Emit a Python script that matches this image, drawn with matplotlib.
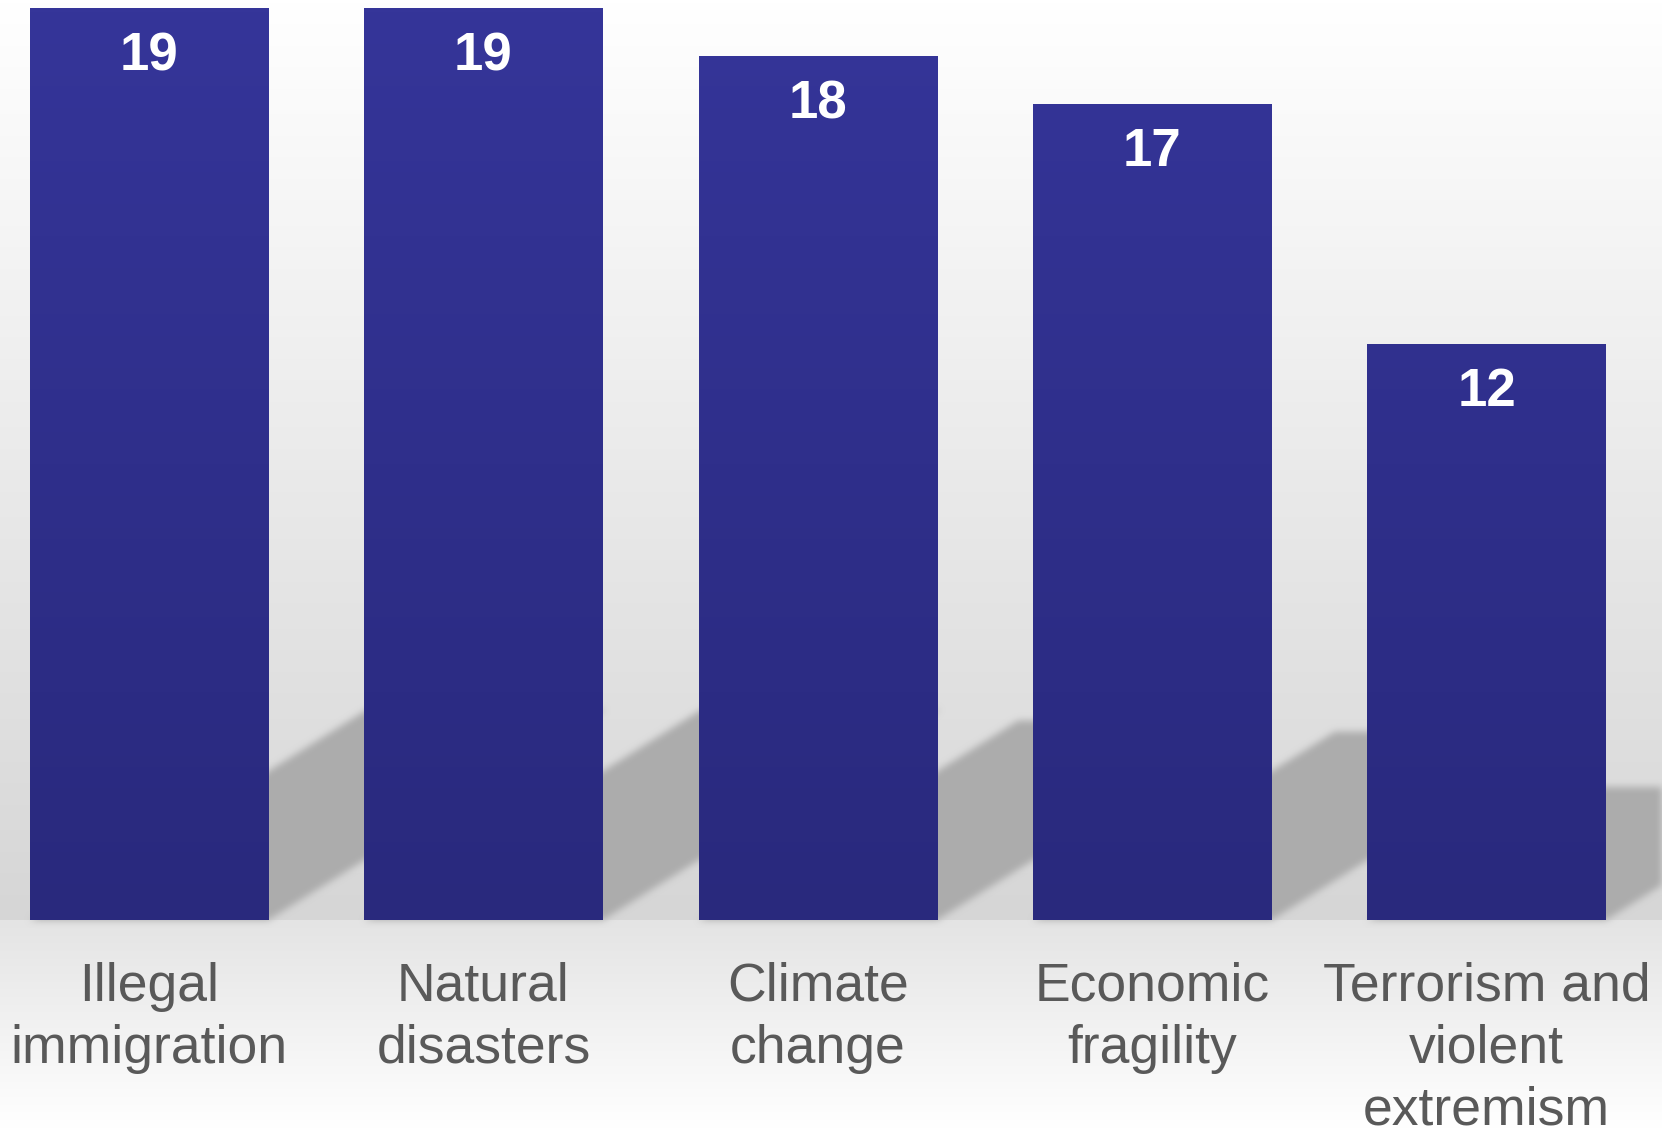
import numpy as np
import matplotlib.pyplot as plt
from matplotlib.colors import LinearSegmentedColormap
from matplotlib.patches import Rectangle
from matplotlib.transforms import Affine2D

categories = ['Illegal\nimmigration', 'Natural\ndisasters', 'Climate\nchange',
              'Economic\nfragility', 'Terrorism and\nviolent\nextremism']
values = [19, 19, 18, 17, 12]

BAR_W = 0.713
SHADOW_COLOR = (0.675, 0.675, 0.675)


def soft_shadow(im, dpi):
    # blur only the alpha so the shadow fades out at its edges
    pad = 12
    a = np.pad(im[:, :, 3], pad)
    k = np.ones(7) / 7
    for _ in range(3):
        a = np.apply_along_axis(lambda r: np.convolve(r, k, mode='same'), 0, a)
        a = np.apply_along_axis(lambda r: np.convolve(r, k, mode='same'), 1, a)
    out = np.zeros(a.shape + (4,))
    out[:, :, :3] = SHADOW_COLOR
    out[:, :, 3] = a
    return out, -pad, -pad


def main():
    fig = plt.figure(figsize=(16.62, 11.28), dpi=100)
    ax = fig.add_axes([0, 0, 1, 1])
    ax.set_axis_off()
    ax.set_xlim(-0.4456, 4.5245)
    ax.set_ylim(-4.33, 19.17)

    # wall and floor gradients
    wall = LinearSegmentedColormap.from_list('wall', ['#d6d6d6', '#ffffff'])
    floor = LinearSegmentedColormap.from_list('floor', ['#ffffff', '#e4e4e4'])
    g = np.linspace(0, 1, 256).reshape(-1, 1)
    ax.imshow(g, cmap=wall, extent=(-0.4456, 4.5245, 0, 19.17), origin='lower',
              aspect='auto', zorder=0)
    ax.imshow(g, cmap=floor, extent=(-0.4456, 4.5245, -4.33, 0), origin='lower',
              aspect='auto', zorder=0)

    x = np.arange(len(values))

    # slanted shadows behind each bar
    shear = Affine2D.from_values(1, 0, 0.0531, 0.231, 0, 0)
    for xi, v in zip(x, values):
        sh = Rectangle((xi - BAR_W / 2, 0), BAR_W, v, facecolor=SHADOW_COLOR,
                       edgecolor='none', transform=shear + ax.transData, zorder=1)
        sh.set_agg_filter(soft_shadow)
        ax.add_patch(sh)

    bars = ax.bar(x, values, width=BAR_W, color='#2e2e8a', edgecolor='none', zorder=2)

    blue = LinearSegmentedColormap.from_list('blue', ['#29297d', '#353599'])
    for b in bars:
        im = ax.imshow(g, cmap=blue, extent=(-0.4456, 4.5245, 0, 19), origin='lower',
                       aspect='auto', zorder=3)
        im.set_clip_path(b)

    for xi, v in zip(x, values):
        ax.annotate(str(v), (xi, v), xytext=(0, -44.6), textcoords='offset points',
                    ha='center', va='baseline', color='white', fontsize=38,
                    fontweight='bold', family='Liberation Sans', zorder=4)

    for xi, c in zip(x, categories):
        ax.annotate(c, (xi, 0), xytext=(0, -29.8), textcoords='offset points',
                    ha='center', va='top', color='#595959', fontsize=38.5,
                    family='Liberation Sans', linespacing=1.31, zorder=4,
                    annotation_clip=False)

    ax.set_xlim(-0.4456, 4.5245)
    ax.set_ylim(-4.33, 19.17)
    fig.savefig('out.png', dpi=100)


if __name__ == '__main__':
    main()
